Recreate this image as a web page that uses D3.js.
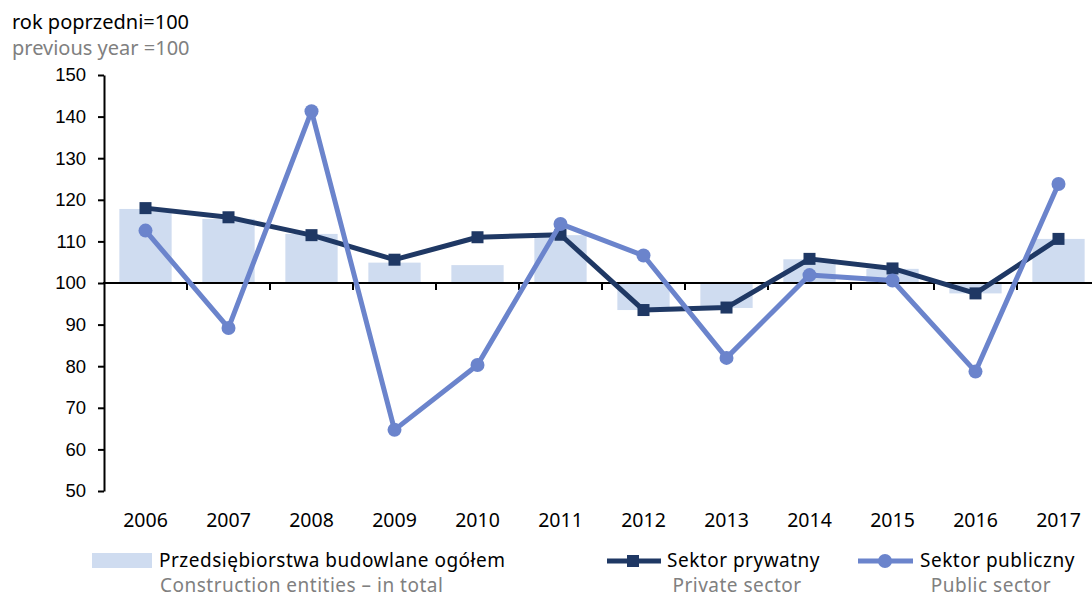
<!DOCTYPE html>
<html>
<head>
<meta charset="utf-8">
<script src="https://cdn.jsdelivr.net/npm/d3@7"></script>
<style>
  body { margin: 0; background: #fff; }
  svg { font-family: "Noto Sans", "Open Sans", sans-serif; }
  .lgt { font-size: 19px; letter-spacing: 0.5px; }
</style>
</head>
<body>
<svg id="chart" width="1092" height="597"></svg>
<script>
const years = ['2006','2007','2008','2009','2010','2011','2012','2013','2014','2015','2016','2017'];
const totalValues = [117.8, 115.4, 111.8, 104.9, 104.3, 111.5, 93.5, 94.0, 105.7, 103.4, 97.5, 110.6];
const privateValues = [118.0, 115.8, 111.5, 105.6, 111.0, 111.6, 93.5, 94.1, 105.8, 103.5, 97.5, 110.6];
const publicValues = [112.6, 89.2, 141.3, 64.7, 80.3, 114.2, 106.6, 82.0, 101.9, 100.6, 78.7, 123.8];
const yTicks = [50, 60, 70, 80, 90, 100, 110, 120, 130, 140, 150];

const barColor = '#cfdcf0';
const privateColor = '#1f3864';
const publicColor = '#6b84cc';

const svg = d3.select('#chart');

const x = d3.scaleBand()
    .domain(years)
    .range([104, 1100])
    .paddingInner(0.37)
    .paddingOuter(0.185);
const y = d3.scaleLinear().domain([50, 150]).range([491, 75]);
const cx = d => x(d) + x.bandwidth() / 2;

// title
svg.append('text').attr('x', 12).attr('y', 29)
    .style('font-size', '20px').attr('fill', '#000').text('rok poprzedni=100');
svg.append('text').attr('x', 12).attr('y', 55)
    .style('font-size', '20px').attr('fill', '#808080').text('previous year =100');

// bars
svg.append('g').selectAll('rect').data(years)
    .enter().append('rect')
    .attr('x', d => x(d))
    .attr('width', x.bandwidth())
    .attr('y', (d, i) => Math.min(y(totalValues[i]), y(100)))
    .attr('height', (d, i) => Math.abs(y(totalValues[i]) - y(100)))
    .attr('fill', barColor);

// y axis
const yAxis = svg.append('g')
    .attr('transform', 'translate(104,0)')
    .call(d3.axisLeft(y).tickValues(yTicks).tickSize(6).tickPadding(12).tickSizeOuter(0));
yAxis.select('.domain').attr('stroke', '#000').attr('stroke-width', 2);
yAxis.selectAll('.tick line').attr('stroke', '#000').attr('stroke-width', 2);
yAxis.selectAll('text').style('font-size', '18.5px').attr('fill', '#000');

// x axis at 100, ticks on category boundaries
const xAxisG = svg.append('g');
xAxisG.append('line')
    .attr('x1', 103).attr('x2', 1092)
    .attr('y1', y(100)).attr('y2', y(100))
    .attr('stroke', '#000').attr('stroke-width', 2);
xAxisG.selectAll('line.tk').data(years.slice(1))
    .enter().append('line').attr('class', 'tk')
    .attr('x1', d => x(d) - x.step() * x.paddingInner() / 2)
    .attr('x2', d => x(d) - x.step() * x.paddingInner() / 2)
    .attr('y1', y(100)).attr('y2', y(100) + 7)
    .attr('stroke', '#000').attr('stroke-width', 2);

// year labels
svg.append('g').selectAll('text').data(years)
    .enter().append('text')
    .attr('x', d => cx(d))
    .attr('y', 527)
    .attr('text-anchor', 'middle')
    .style('font-size', '19.5px')
    .attr('fill', '#000')
    .text(d => d);

// private line
const line = vals => d3.line().x((d, i) => cx(years[i])).y(d => y(d))(vals);
svg.append('path').attr('d', line(privateValues))
    .attr('fill', 'none').attr('stroke', privateColor).attr('stroke-width', 5)
    .attr('stroke-linejoin', 'round');
svg.append('g').selectAll('rect').data(privateValues)
    .enter().append('rect')
    .attr('x', (d, i) => cx(years[i]) - 6)
    .attr('y', d => y(d) - 6)
    .attr('width', 12).attr('height', 12)
    .attr('fill', privateColor);

// public line
svg.append('path').attr('d', line(publicValues))
    .attr('fill', 'none').attr('stroke', publicColor).attr('stroke-width', 5)
    .attr('stroke-linejoin', 'round');
svg.append('g').selectAll('circle').data(publicValues)
    .enter().append('circle')
    .attr('cx', (d, i) => cx(years[i]))
    .attr('cy', d => y(d))
    .attr('r', 7)
    .attr('fill', publicColor);

// legend
const lg = svg.append('g');
lg.append('rect').attr('x', 92).attr('y', 553).attr('width', 60).attr('height', 15).attr('fill', barColor);
lg.append('text').attr('class', 'lgt').attr('x', 159).attr('y', 567).attr('fill', '#000')
    .text('Przedsiębiorstwa budowlane ogółem');
lg.append('text').attr('class', 'lgt').attr('x', 160).attr('y', 592).attr('fill', '#808080')
    .text('Construction entities – in total');

lg.append('line').attr('x1', 607).attr('x2', 661).attr('y1', 561).attr('y2', 561)
    .attr('stroke', privateColor).attr('stroke-width', 5);
lg.append('rect').attr('x', 627).attr('y', 555).attr('width', 12).attr('height', 12).attr('fill', privateColor);
lg.append('text').attr('class', 'lgt').attr('x', 667).attr('y', 567).attr('fill', '#000')
    .text('Sektor prywatny');
lg.append('text').attr('class', 'lgt').attr('x', 737).attr('y', 592).attr('text-anchor', 'middle').attr('fill', '#808080')
    .text('Private sector');

lg.append('line').attr('x1', 858).attr('x2', 913).attr('y1', 561).attr('y2', 561)
    .attr('stroke', publicColor).attr('stroke-width', 5);
lg.append('circle').attr('cx', 885).attr('cy', 561).attr('r', 7).attr('fill', publicColor);
lg.append('text').attr('class', 'lgt').attr('x', 920).attr('y', 567).attr('fill', '#000')
    .text('Sektor publiczny');
lg.append('text').attr('class', 'lgt').attr('x', 991).attr('y', 592).attr('text-anchor', 'middle').attr('fill', '#808080')
    .text('Public sector');
</script>
</body>
</html>
